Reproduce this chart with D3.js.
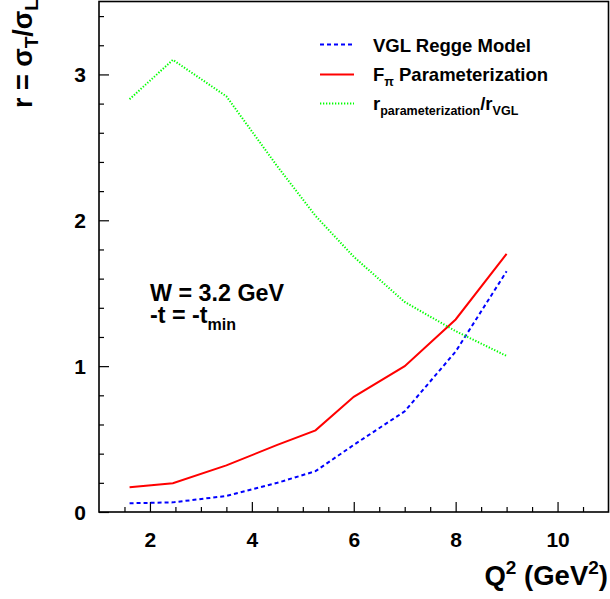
<!DOCTYPE html>
<html>
<head>
<meta charset="utf-8">
<script src="https://cdn.jsdelivr.net/npm/d3@7"></script>
<style>
  html, body { margin: 0; padding: 0; background: #fff; }
  svg { display: block; }
  text { font-family: "Liberation Sans", Arial, Helvetica, sans-serif; font-weight: bold; fill: #000; }
</style>
</head>
<body>
<div id="chart"></div>
<script>
// Q^2 points (GeV^2) and the three curves evaluated at W = 3.2 GeV, -t = -t_min
const q2 = [1.6, 2.45, 3.5, 4.5, 5.25, 6.0, 7.0, 8.0, 9.0];
const rVGL = [0.06, 0.066, 0.11, 0.20, 0.28, 0.46, 0.69, 1.10, 1.65];
const rFpi = [0.17, 0.197, 0.32, 0.46, 0.56, 0.79, 1.00, 1.32, 1.77];
const rRatio = [2.83, 3.10, 2.85, 2.37, 2.03, 1.75, 1.44, 1.24, 1.07];

const xMajorTicks = [2, 4, 6, 8, 10];
const yMajorTicks = [0, 1, 2, 3];

const W = 610, H = 599;
const plotL = 99, plotR = 608.5, plotT = 1.5, plotB = 512;

const svg = d3.select("#chart").append("svg")
  .attr("width", W).attr("height", H);

const x = d3.scaleLinear().domain([1, 11]).range([plotL, plotR]);
const y = d3.scaleLinear().domain([0, 3.5]).range([plotB, plotT]);

// frame
svg.append("rect")
  .attr("x", plotL).attr("y", plotT)
  .attr("width", plotR - plotL).attr("height", plotB - plotT)
  .attr("fill", "none").attr("stroke", "#000").attr("stroke-width", 1.6);

// minor ticks (inward)
const xMinor = d3.range(1.5, 11, 0.5).filter(v => !xMajorTicks.includes(v));
const yMinor = d3.range(0.2, 3.5, 0.2).map(v => +v.toFixed(1)).filter(v => !yMajorTicks.includes(v));

const gxMinor = svg.append("g").attr("transform", `translate(0,${plotB})`)
  .call(d3.axisBottom(x).tickValues(xMinor).tickSize(-5).tickFormat(""));
const gyMinor = svg.append("g").attr("transform", `translate(${plotL},0)`)
  .call(d3.axisLeft(y).tickValues(yMinor).tickSize(-5).tickFormat(""));

// major ticks with labels
const gx = svg.append("g").attr("transform", `translate(0,${plotB})`)
  .call(d3.axisBottom(x).tickValues(xMajorTicks).tickSize(-10).tickPadding(24).tickFormat(d3.format("d")));
const gy = svg.append("g").attr("transform", `translate(${plotL},0)`)
  .call(d3.axisLeft(y).tickValues(yMajorTicks).tickSize(-10).tickPadding(13).tickFormat(d3.format("d")));

[gxMinor, gyMinor, gx, gy].forEach(g => {
  g.select(".domain").remove();
  g.selectAll(".tick line").attr("stroke", "#000").attr("stroke-width", 1.2);
});
gx.selectAll(".tick text").attr("font-size", 21).attr("dy", "0.52em")
  .style("font-family", "Liberation Sans, Arial, sans-serif").style("font-weight", "bold");
gy.selectAll(".tick text").attr("font-size", 21).attr("dy", "0.36em")
  .style("font-family", "Liberation Sans, Arial, sans-serif").style("font-weight", "bold");

// curves
const line = (vals) => d3.line()
  .x((d, i) => x(q2[i]))
  .y(d => y(d))(vals);

const series = [
  { vals: rVGL, color: "#0000ff", dash: "4,3", width: 2 },
  { vals: rFpi, color: "#ff0000", dash: null, width: 2 },
  { vals: rRatio, color: "#00ff00", dash: "1.3,1.7", width: 2 }
];

series.forEach(s => {
  svg.append("path")
    .attr("d", line(s.vals))
    .attr("fill", "none")
    .attr("stroke", s.color)
    .attr("stroke-width", s.width)
    .attr("stroke-dasharray", s.dash);
});

// legend
const legendRows = [
  { y: 44.5, base: 51.7 },
  { y: 74.5, base: 81 },
  { y: 103.5, base: 110 }
];
series.forEach((s, i) => {
  svg.append("line")
    .attr("x1", 320).attr("x2", 354)
    .attr("y1", legendRows[i].y).attr("y2", legendRows[i].y)
    .attr("stroke", s.color).attr("stroke-width", s.width)
    .attr("stroke-dasharray", s.dash);
});

const legSize = 18.5, legSub = 12.5;
const leg1 = svg.append("text").attr("x", 373).attr("y", legendRows[0].base).attr("font-size", legSize);
leg1.text("VGL Regge Model");

const leg2 = svg.append("text").attr("x", 373).attr("y", legendRows[1].base).attr("font-size", legSize);
leg2.append("tspan").text("F");
leg2.append("tspan").attr("font-size", legSub).attr("dy", 5).text("π");
leg2.append("tspan").attr("dy", -5).text(" Parameterization");

const leg3 = svg.append("text").attr("x", 373).attr("y", legendRows[2].base).attr("font-size", legSize);
leg3.append("tspan").text("r");
leg3.append("tspan").attr("font-size", legSub).attr("dy", 5).text("parameterization");
leg3.append("tspan").attr("dy", -5).text("/r");
leg3.append("tspan").attr("font-size", legSub).attr("dy", 5).text("VGL");

// kinematics note, two lines in one text block
const ann = svg.append("text").attr("x", 150).attr("y", 300.7).attr("font-size", 23.3);
ann.append("tspan").text("W = 3.2 GeV");
ann.append("tspan").attr("x", 150).attr("dy", 21.8).text("-t = -t");
ann.append("tspan").attr("font-size", 16).attr("dy", 7).text("min");

// axis titles
const xt = svg.append("text").attr("x", 608).attr("y", 584.5)
  .attr("text-anchor", "end").attr("font-size", 27.5);
xt.append("tspan").text("Q");
xt.append("tspan").attr("font-size", 19).attr("dy", -11).text("2");
xt.append("tspan").attr("dy", 11).text(" (GeV");
xt.append("tspan").attr("font-size", 19).attr("dy", -11).text("2");
xt.append("tspan").attr("dy", 11).text(")");

const yt = svg.append("text")
  .attr("transform", "translate(32,108) rotate(-90)")
  .attr("text-anchor", "start").attr("font-size", 27);
yt.append("tspan").text("r = σ");
yt.append("tspan").attr("font-size", 19).attr("dy", 6).text("T");
yt.append("tspan").attr("dy", -6).text("/σ");
yt.append("tspan").attr("font-size", 19).attr("dy", 6).text("L");
</script>
</body>
</html>
